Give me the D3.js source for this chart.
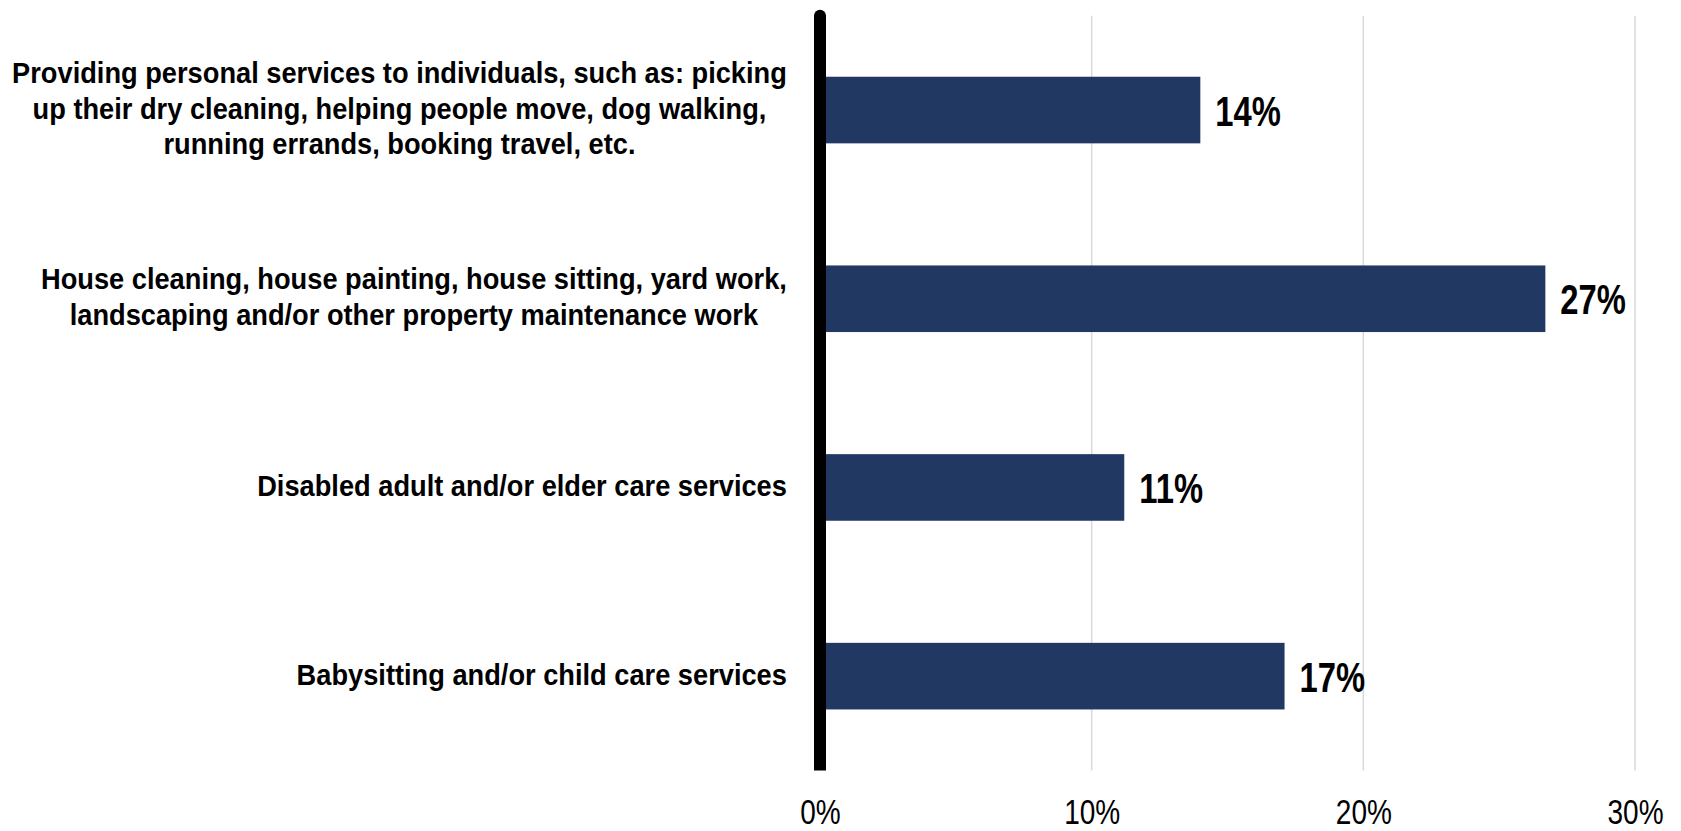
<!DOCTYPE html>
<html>
<head>
<meta charset="utf-8">
<script src="https://cdn.jsdelivr.net/npm/d3@7"></script>
<style>
  html, body { margin: 0; padding: 0; background: #fff; }
  svg { display: block; }
</style>
</head>
<body>
<svg id="chart" width="1681" height="831"></svg>
<script>
// Service categories (line breaks mark where long labels wrap)
const categories = [
  "Providing personal services to individuals, such as: picking\nup their dry cleaning, helping people move, dog walking,\nrunning errands, booking travel, etc.",
  "House cleaning, house painting, house sitting, yard work,\nlandscaping and/or other property maintenance work",
  "Disabled adult and/or elder care services",
  "Babysitting and/or child care services"
];
// Share of respondents per category
const shares = [0.140, 0.267, 0.112, 0.171];
// Horizontal axis ticks
const tickValues = [0, 0.1, 0.2, 0.3];

const svg = d3.select("#chart");
const FONT = "'Liberation Sans', Arial, sans-serif";
const x0 = 820, x1 = 1635, yTop = 15.7, yBot = 770.5;

const x = d3.scaleLinear().domain([0, 0.3]).range([x0, x1]);
const y = d3.scaleBand().domain(d3.range(categories.length))
  .range([yTop, yBot]).paddingInner(0.647).paddingOuter(0.3235);

const fmt = d3.format(".0%");

// Vertical gridlines
svg.append("g").selectAll("line")
  .data(tickValues.filter(d => d > 0))
  .join("line")
  .attr("x1", d => x(d)).attr("x2", d => x(d))
  .attr("y1", yTop).attr("y2", yBot)
  .attr("stroke", "#d9d9d9").attr("stroke-width", 1.5);

// Bottom axis labels (narrowed horizontally)
const xAxis = d3.axisBottom(x).tickValues(tickValues).tickFormat(fmt).tickSize(0).tickPadding(0);
const gx = svg.append("g").attr("transform", `translate(0,${yBot})`).call(xAxis);
gx.select(".domain").remove();
gx.selectAll("text")
  .attr("dy", null)
  .attr("y", 0)
  .attr("transform", "translate(0,53) scale(0.8,1)")
  .attr("font-family", FONT)
  .attr("font-size", 35)
  .attr("fill", "#000");

// Bars
svg.append("g").selectAll("rect")
  .data(shares)
  .join("rect")
  .attr("x", x(0))
  .attr("y", (d, i) => y(i))
  .attr("width", d => x(d) - x(0))
  .attr("height", y.bandwidth())
  .attr("fill", "#213862");

// Value labels
svg.append("g").selectAll("text")
  .data(shares)
  .join("text")
  .attr("transform", (d, i) => `translate(${x(d) + 15},${y(i) + y.bandwidth() / 2 + 15.5}) scale(0.78,1)`)
  .attr("font-family", FONT)
  .attr("font-weight", "bold")
  .attr("font-size", 42)
  .attr("fill", "#000")
  .text(d => fmt(d));

// Category labels: lines centred within a right-aligned block
const labelRight = 787, lineH = 35.5, sx = 0.908;
const lg = svg.append("g")
  .attr("font-family", FONT)
  .attr("font-weight", "bold")
  .attr("font-size", 30)
  .attr("fill", "#000");
categories.forEach((c, i) => {
  const lines = c.split("\n");
  const cy = y(i) + y.bandwidth() / 2;
  const t = lg.append("text").attr("text-anchor", "middle");
  lines.forEach((l, k) => t.append("tspan")
    .attr("x", 0)
    .attr("y", cy + 8.5 + (k - (lines.length - 1) / 2) * lineH)
    .text(l));
  const maxW = d3.max(t.selectAll("tspan").nodes(), n => n.getComputedTextLength());
  t.attr("transform", `translate(${labelRight - maxW * sx / 2},0) scale(${sx},1)`);
});

// Vertical zero axis, rounded at the top
svg.append("line")
  .attr("x1", x0).attr("x2", x0)
  .attr("y1", yTop).attr("y2", yBot)
  .attr("stroke", "#000").attr("stroke-width", 12);
svg.append("circle").attr("cx", x0).attr("cy", yTop).attr("r", 6).attr("fill", "#000");
</script>
</body>
</html>
